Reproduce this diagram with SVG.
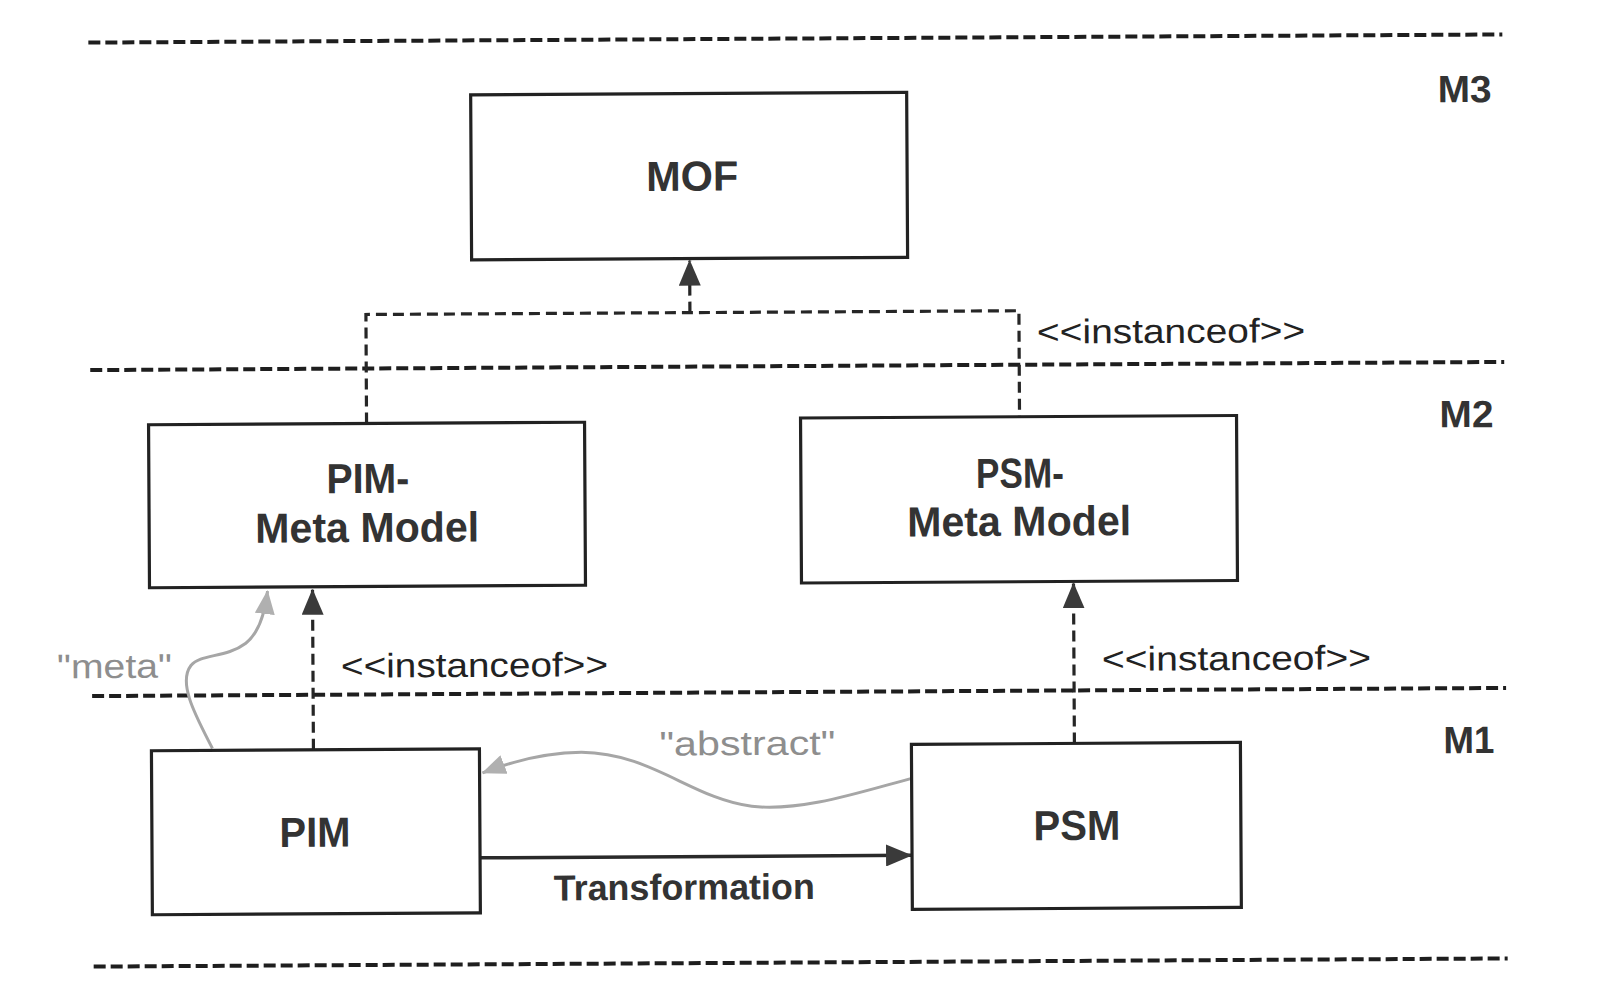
<svg xmlns="http://www.w3.org/2000/svg" width="1608" height="985" viewBox="0 0 1608 985">
  <style>
    .box { fill: #ffffff; stroke: #222222; stroke-width: 3.2; }
    .lbl { font-family: "Liberation Sans", Arial, sans-serif; font-weight: bold; font-size: 42px; fill: #333333; text-anchor: middle; }
    .lay { font-family: "Liberation Sans", Arial, sans-serif; font-weight: bold; font-size: 38px; fill: #333333; }
    .inst { font-family: "Liberation Sans", Arial, sans-serif; font-size: 34px; fill: #222222; }
    .gtxt { font-family: "Liberation Sans", Arial, sans-serif; font-size: 34px; fill: #8e8e8e; }
    .sep { stroke: #1e1e1e; stroke-width: 4; stroke-dasharray: 12 5; fill: none; }
    .dep { stroke: #262626; stroke-width: 3.2; stroke-dasharray: 11 6; fill: none; }
    .solid { stroke: #2a2a2a; stroke-width: 3.5; fill: none; }
    .gray { stroke: #a6a6a6; stroke-width: 3; fill: none; }
  </style>
  <defs>
    <marker id="ah" markerUnits="userSpaceOnUse" markerWidth="26" markerHeight="22" refX="25" refY="11" orient="auto">
      <path d="M0,0 L26,11 L0,22 z" fill="#3a3a3a"/>
    </marker>
    <marker id="ahg" markerUnits="userSpaceOnUse" markerWidth="24" markerHeight="20" refX="23" refY="10" orient="auto">
      <path d="M0,0 L24,10 L0,20 z" fill="#b0b0b0"/>
    </marker>
  </defs>
  <rect width="1608" height="985" fill="#ffffff"/>
  <g transform="rotate(-0.33 800 500)">
    <g id="layers">
      <line class="sep" x1="91" y1="38.5" x2="1505" y2="38.5"/>
      <line class="sep" x1="91" y1="366" x2="1505" y2="366"/>
      <line class="sep" x1="91" y1="692" x2="1505" y2="692"/>
      <line class="sep" x1="91" y1="962.5" x2="1505" y2="962.5"/>
      <text class="lay" x="1440" y="106" textLength="54" lengthAdjust="spacingAndGlyphs">M3</text>
      <text class="lay" x="1440" y="431" textLength="54" lengthAdjust="spacingAndGlyphs">M2</text>
      <text class="lay" x="1442" y="757" textLength="51" lengthAdjust="spacingAndGlyphs">M1</text>
    </g>
    <g id="connectors">
      <path class="dep" d="M367,421 L367,312 L1020,312 L1020,418"/>
      <path class="dep" d="M691,312 L691,260" marker-end="url(#ah)"/>
      <text class="inst" x="1038" y="345" textLength="268" lengthAdjust="spacingAndGlyphs">&lt;&lt;instanceof&gt;&gt;</text>
      <path class="dep" d="M312,747 L312,587" marker-end="url(#ah)"/>
      <text class="inst" x="340" y="675" textLength="267" lengthAdjust="spacingAndGlyphs">&lt;&lt;instanceof&gt;&gt;</text>
      <path class="dep" d="M1073,745 L1073,585" marker-end="url(#ah)"/>
      <text class="inst" x="1101" y="672.5" textLength="269" lengthAdjust="spacingAndGlyphs">&lt;&lt;instanceof&gt;&gt;</text>
      <path class="solid" d="M478,856 L909,856" marker-end="url(#ah)"/>
      <text class="lbl" x="682" y="899" textLength="261" lengthAdjust="spacingAndGlyphs" style="font-size:36px">Transformation</text>
      <path class="gray" d="M211,745 C196,715 176,680 190,662 C200,650 225,655 245,640 C258,630 264,612 267,588" marker-end="url(#ahg)"/>
      <text class="gtxt" x="56" y="674" textLength="115" lengthAdjust="spacingAndGlyphs">"meta"</text>
      <path class="gray" d="M910,779 C860,792 800,812 750,806 C690,798 650,752 580,751 C545,751 510,760 481,771" marker-end="url(#ahg)"/>
      <text class="gtxt" x="658" y="754.7" textLength="176" lengthAdjust="spacingAndGlyphs">"abstract"</text>
    </g>
    <g id="mof">
      <rect class="box" x="473" y="93" width="436" height="165"/>
      <text class="lbl" x="694" y="190" textLength="92" lengthAdjust="spacingAndGlyphs">MOF</text>
    </g>
    <g id="pim-meta">
      <rect class="box" x="149" y="421" width="436" height="163"/>
      <text class="lbl" x="368" y="490.5" textLength="83" lengthAdjust="spacingAndGlyphs">PIM-</text>
      <text class="lbl" x="367" y="539.5" textLength="224" lengthAdjust="spacingAndGlyphs">Meta Model</text>
    </g>
    <g id="psm-meta">
      <rect class="box" x="801" y="418" width="436" height="165"/>
      <text class="lbl" x="1020" y="489" textLength="88" lengthAdjust="spacingAndGlyphs">PSM-</text>
      <text class="lbl" x="1019" y="537" textLength="224" lengthAdjust="spacingAndGlyphs">Meta Model</text>
    </g>
    <g id="pim">
      <rect class="box" x="150" y="747" width="328" height="164"/>
      <text class="lbl" x="313" y="844" textLength="71" lengthAdjust="spacingAndGlyphs">PIM</text>
    </g>
    <g id="psm">
      <rect class="box" x="910" y="745" width="329" height="165"/>
      <text class="lbl" x="1075" y="841.6" textLength="87" lengthAdjust="spacingAndGlyphs">PSM</text>
    </g>
  </g>
</svg>
